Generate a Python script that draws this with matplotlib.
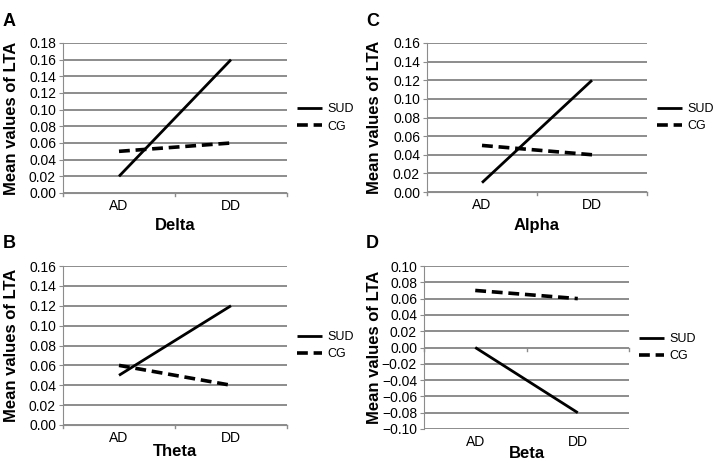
#! /usr/bin/python3
"""Four-panel LTA interaction plots (AD vs DD) for SUD and CG groups."""
import matplotlib
matplotlib.use("Agg")
import matplotlib.pyplot as plt
import numpy as np

plt.rcParams["font.family"] = ["Liberation Sans", "DejaVu Sans"]

categories = ["AD", "DD"]
groups = ["SUD", "CG"]

delta_sud = [0.02, 0.16]
delta_cg = [0.05, 0.06]
alpha_sud = [0.01, 0.12]
alpha_cg = [0.05, 0.04]
theta_sud = [0.05, 0.12]
theta_cg = [0.06, 0.04]
beta_sud = [0.00, -0.08]
beta_cg = [0.07, 0.06]

W, H = 713, 463
GRID = "#8c8c8c"

# (letter, band, sud, cg, ylim, pixel box l/r/t/b, letter x, ylabel x, xlabel gap)
panels = [
    ("A", "Delta", delta_sud, delta_cg, (0.0, 0.18), (63, 287, 43, 193), 3, 19, 25),
    ("C", "Alpha", alpha_sud, alpha_cg, (0.0, 0.16), (427, 647, 43, 192), 366, 382, 26),
    ("B", "Theta", theta_sud, theta_cg, (0.0, 0.16), (63, 287, 266, 425), 3, 19, 19),
    ("D", "Beta", beta_sud, beta_cg, (-0.10, 0.10), (424, 629, 266, 429), 366, 382, 17),
]

fig = plt.figure(figsize=(W / 100, H / 100), dpi=100)

for letter, band, sud, cg, (y0, y1), (l, r, t, b), lx, yx, gap in panels:
    w, h = r - l, b - t
    ax = fig.add_axes([l / W, (H - b) / H, w / W, h / H])
    x = np.arange(len(categories)) + 0.5
    ax.plot(x, sud, color="black", lw=2.0, solid_capstyle="butt", label=groups[0], zorder=3)
    ax.plot(x, cg, color="black", lw=2.6, ls=(0, (3, 1.6)), label=groups[1], zorder=3)

    ax.set_xlim(0, 2)
    ax.set_ylim(y0, y1)
    yt = np.round(np.arange(y0, y1 + 1e-9, 0.02), 2)
    ax.set_yticks(yt)
    ax.set_yticklabels([f"{v:.2f}".replace("-", "\u2212") for v in yt], fontsize=10)
    for v in yt:
        ax.axhline(v, color=GRID, lw=1.4, zorder=1)

    ax.set_xticks(x)
    ax.set_xticklabels(categories, fontsize=10)
    ax.tick_params(axis="x", length=0, pad=4)
    ax.tick_params(axis="y", length=3, color=GRID, pad=2)
    # category boundary ticks on the zero line (Excel-style)
    zero = 0.0 if y0 < 0 else y0
    for xb in (0, 1, 2):
        ax.plot([xb, xb], [zero, zero - (y1 - y0) * 0.02], color=GRID, lw=1, clip_on=False)

    for s in ("top", "right"):
        ax.spines[s].set_visible(False)
    ax.spines["left"].set_color(GRID)
    ax.spines["bottom"].set_color(GRID)
    ax.spines["bottom"].set_visible(y0 >= 0)

    ax.set_xlabel(band, fontsize=12, fontweight="bold")
    ax.xaxis.set_label_coords(0.5, -gap / h)
    ax.set_ylabel("Mean values of LTA", fontsize=12, fontweight="bold")
    ax.yaxis.set_label_coords((yx - l) / w, 0.5)
    ax.legend(loc="center left", bbox_to_anchor=(1 + 10 / w, 0.5), frameon=False,
              fontsize=9, handlelength=2.0, handletextpad=0.4, labelspacing=0.4,
              borderpad=0, borderaxespad=0)

    fig.text(lx / W, 1 - (t - 22) / H, letter, fontsize=13, fontweight="bold",
             va="center", ha="left")

fig.savefig("out.png", dpi=100, facecolor="white")
